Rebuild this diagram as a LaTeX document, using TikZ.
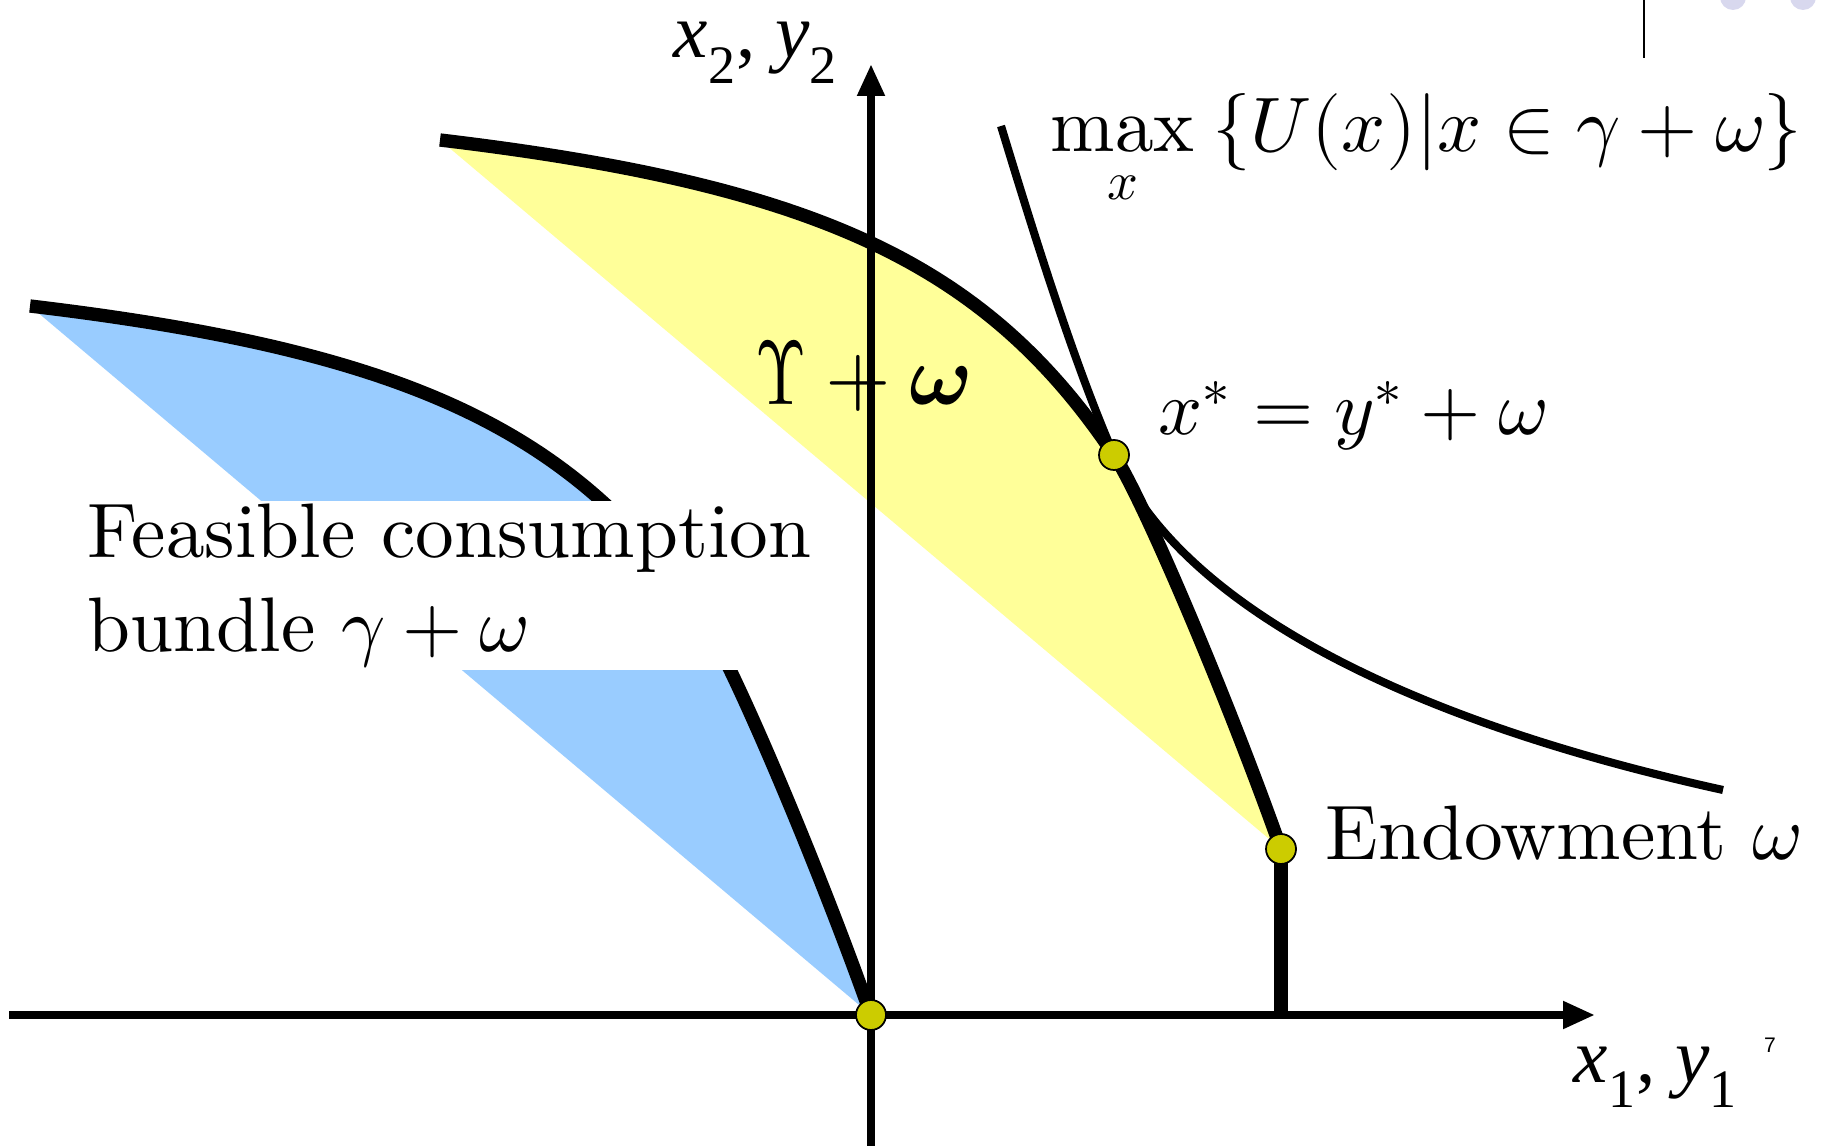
\documentclass[tikz,border=0pt]{standalone}
\usepackage{amsmath}
\usepackage{graphicx}
\usepackage{fontspec}
\usepackage{unicode-math}
\setmainfont{lmroman10-regular.otf}[ItalicFont=lmroman10-italic.otf, BoldFont=lmroman10-bold.otf]
\setmathfont{Latin Modern Math}
\newfontfamily\timesfont{Liberation Serif}
\newfontfamily\slidefont{Liberation Sans}
\usepackage{tikz}
\usetikzlibrary{arrows.meta}
\definecolor{feasblue}{RGB}{153,204,255}
\definecolor{prodyellow}{RGB}{255,255,153}
\definecolor{dotolive}{RGB}{204,204,0}
\definecolor{navgrey}{RGB}{216,216,238}
\newcommand{\frontierplot}{(30,306) .. controls (408,351) and (576,430) .. (704,621) .. controls (732,663) and (816,860) .. (871,1015)}
\newcommand{\axsub}[2]{\textit{#1}\raisebox{-1.7pt}{\textsubscript{#2}}}

\begin{document}
\begin{tikzpicture}[x=0.1mm, y=-0.1mm,
    frontier/.style={line width=3.8pt},
    axis/.style={line width=2.2pt, -{Triangle[length=3.2mm, width=2.6mm]}},
    indiff/.style={line width=2.3pt},
    dot/.style={circle, draw, fill=dotolive, line width=0.5pt, minimum size=3mm, inner sep=0pt},
    lbl/.style={inner sep=0pt, anchor=base west, font=\fontsize{22}{27}\selectfont}
]
\useasboundingbox (0,0) rectangle (1826,1146);

% feasible set: frontier at the origin
\fill[feasblue] \frontierplot -- cycle;
\draw[frontier] \frontierplot;
% same frontier moved by the endowment
\begin{scope}[shift={(410,-166)}]
  \fill[prodyellow] \frontierplot -- cycle;
  \draw[frontier] \frontierplot;
\end{scope}

% white panel behind the text
\fill[white] (0,501) rectangle (852,670);
\node[lbl, align=left] (feasible) at (87,652) {Feasible consumption\\bundle $\gamma+\omega$};

% axes
\coordinate (origin) at (871,1015);
\coordinate (xstar) at (1114,455);
\coordinate (endow) at (1281,849);
\coordinate (xleft) at (9,1015);
\coordinate (xtip) at (1595,1015);
\coordinate (ybottom) at (871,1146);
\coordinate (ytip) at (871,64);
\draw[axis] (xleft) -- (xtip);
\draw[axis] (ybottom) -- (ytip);
\draw[frontier] (endow) -- (endow |- origin);

% indifference curve
\coordinate (utop) at (1001,126);
\coordinate (uend) at (1723,790);
\draw[indiff] (utop) .. controls (1036,241) and (1074,363) .. (xstar)
  .. controls (1172,588) and (1365,711) .. (uend);

\node[dot] (origindot) at (origin) {};
\node[dot] (xstardot) at (xstar) {};
\node[dot] (endowdot) at (endow) {};

% labels
\node[lbl] (ylabel) at (673,58) {\timesfont\axsub{x}{2}, \axsub{y}{2}};
\node[lbl] (xlabel) at (1573,1082) {\timesfont\axsub{x}{1}, \axsub{y}{1}};
\node[lbl] (maxlabel) at (1050,152) {$\displaystyle\max_x\hspace{5pt}\{U(x)|x\in\gamma+\omega\}$};
\node[lbl] (xstarlabel) at (1158,435) {$x^*=y^*+\omega$};
\node[lbl] (endowlabel) at (1325,860) {Endowment $\omega$};
\node[lbl, font=\fontsize{24}{28}\selectfont] (prodlabel) at (755,405) {$\scalebox{0.78}[1.08]{$\Upsilon$}+\symbfit{\omega}$};
\node[inner sep=0pt, font=\slidefont\fontsize{6}{7}\selectfont] (pagenum) at (1770,1045) {7};

% slide leftovers, top right
\draw[line width=0.6pt] (1644,0) -- (1644,58);
\fill[navgrey] (1733,-3) circle[radius=13];
\fill[navgrey] (1803,-3) circle[radius=13];
\end{tikzpicture}
\end{document}
